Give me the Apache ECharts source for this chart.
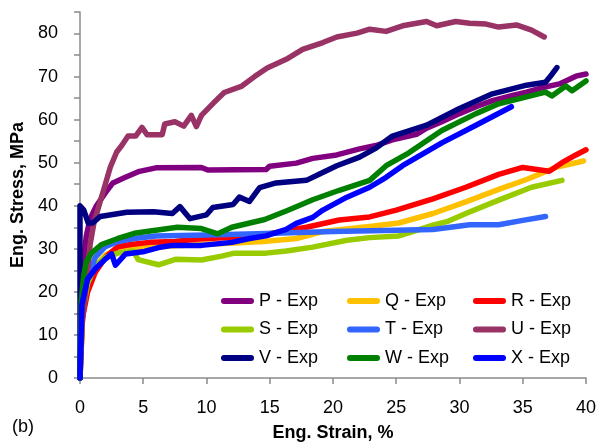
<!DOCTYPE html>
<html>
<head>
<meta charset="utf-8">
<script src="https://cdn.jsdelivr.net/npm/echarts@6/dist/echarts.min.js"></script>
<style>
  html, body { margin: 0; padding: 0; background: #fff; }
  #chart { width: 599px; height: 447px; }
</style>
</head>
<body>
<div id="chart"></div>
<script>
// Engineering stress–strain curves, [strain %, stress MPa]
const seriesNames = ['P - Exp', 'Q - Exp', 'R - Exp', 'S - Exp', 'T - Exp', 'U - Exp', 'V - Exp', 'W - Exp', 'X - Exp'];
const seriesColors = ['#800080', '#FFC000', '#FF0000', '#99CC00', '#3366FF', '#993366', '#000080', '#008000', '#0000FF'];

const dataP = [[0,0],[0.1,15],[0.3,28],[0.5,33],[0.8,37],[1.3,40],[2.0,43],[2.6,45.3],[3.5,46.5],[4.7,48],[6.0,48.8],[9.6,48.9],[10.1,48.3],[14.7,48.4],[15,49.2],[17.1,49.9],[18.4,51],[20.3,51.8],[22.1,53.2],[23.4,54],[24.7,55.3],[26.6,56.6],[27.4,58],[28.6,59.5],[30,61.4],[31.3,63],[32.6,64.4],[34.2,65.6],[35.3,66.4],[36.5,67.4],[37.9,68.3],[39.2,70.1],[40,70.6]];
const dataQ = [[0,0],[0.2,15],[0.6,22],[1.2,26],[2,28.5],[3,30],[5,30.2],[8,30.8],[11.8,31.3],[14.5,31.7],[17.1,32.4],[19.2,34],[22.9,35.2],[25.2,36],[27.9,38.2],[30.5,40.9],[33.1,43.8],[35.3,46.1],[37.6,48.9],[39.8,50.4]];
const dataR = [[0,0],[0.2,14],[0.6,20],[1.2,24.5],[2,28],[3,30.5],[4,31],[5.5,31.5],[7.5,31.7],[9.1,32.2],[12,32.7],[14,33],[17.9,35],[20.5,36.7],[22.9,37.4],[25,39],[27.9,41.6],[30.5,44.3],[33.1,47.3],[35,48.9],[37.1,48],[38.1,50],[39.2,51.8],[40,53]];
const dataS = [[0,0],[0.2,15],[0.6,22],[1.2,26],[2,28],[3,29],[4.2,29.5],[4.6,27.5],[6.2,26.3],[7.6,27.6],[9.6,27.4],[11.2,28.3],[12.2,29],[14.7,29],[16.3,29.5],[18.4,30.4],[21.1,32],[22.9,32.6],[25.2,33],[26.3,34],[27.9,35.5],[29,36.3],[30.5,38.2],[33.1,41.3],[35.7,44.3],[38.1,45.9]];
const dataT = [[0,0],[0.15,15],[0.5,22],[1.2,28],[2,30.5],[3,31.7],[4.3,32.4],[6,33],[10,33.2],[14,33.5],[20,34],[27.9,34.5],[30.8,35.6],[33.1,35.6],[35,36.6],[36.8,37.5]];
const dataU = [[0,0],[0.15,12],[0.5,22],[0.8,31],[1.1,36],[1.5,40],[2.0,45],[2.4,49],[2.9,52.5],[3.3,54],[3.8,56.2],[4.4,56.2],[4.9,58.2],[5.3,56.5],[6.5,56.5],[6.7,59],[7.5,59.5],[8.2,58.5],[8.8,61],[9.2,58.4],[9.6,61],[10.6,64],[11.4,66.3],[12.8,67.8],[13.8,70],[14.8,72],[16.3,74],[17.6,76.3],[19.2,77.9],[20.3,79.2],[21.9,80.1],[22.9,81],[24.2,80.5],[25.5,81.8],[27.4,82.8],[28.2,81.8],[29.7,82.8],[30.8,82.4],[32.1,82.2],[33.1,81.5],[34.5,82],[35.7,80.8],[36.7,79.2]];
const dataV = [[0,0],[0,40],[0.3,39],[0.65,36],[1.0,36],[1.6,37.5],[3.7,38.5],[5.8,38.6],[7.3,38.2],[7.9,39.8],[8.7,37],[10,37.9],[10.5,39.6],[12.1,40.3],[12.6,42],[13.4,41],[14.2,44.2],[15.5,45.3],[17.9,45.9],[18.9,47.3],[20.3,49.3],[22.1,51.3],[23.4,53.4],[24.7,56.2],[27.4,58.7],[30,62.6],[32.6,66],[35.3,68],[36.8,68.7],[37.3,70.5],[37.7,72.1]];
const dataW = [[0,0],[0.1,18],[0.3,24],[0.5,27],[0.9,29],[1.7,31],[3,32.4],[4.3,33.6],[5.7,34.2],[7.7,35],[9.6,34.7],[10.9,33.5],[12,35],[14.6,36.8],[16.3,38.8],[18.4,41.4],[20.5,43.6],[22.9,45.9],[24.2,49.3],[26,52.3],[28.6,57.5],[31.3,61.4],[33.1,63.7],[35.3,65.3],[36.8,66.4],[37.3,65.5],[38.4,67.8],[38.9,66.7],[40,69]];
const dataX = [[0,0],[0.15,17],[0.6,23],[1.2,25.3],[2,27.6],[2.5,28.8],[2.8,26.2],[3.6,28.8],[5.1,29.4],[6.2,30.3],[7.3,30.8],[9.6,30.8],[12,31.5],[13.4,32.4],[14.7,33],[16.3,34.5],[17.1,35.9],[18.4,37.3],[19.2,39],[21.1,42],[22.9,44.3],[24.2,46.6],[25.5,49.3],[28.6,54.6],[31.3,58.7],[34.1,63]];

const seriesData = [dataP, dataQ, dataR, dataS, dataT, dataU, dataV, dataW, dataX];

// Legend columns, three entries each
const legendColumns = [
  ['P - Exp', 'S - Exp', 'V - Exp'],
  ['Q - Exp', 'T - Exp', 'W - Exp'],
  ['R - Exp', 'U - Exp', 'X - Exp']
];

const xTicks = { min: 0, max: 40, step: 5 };
const yTicks = { min: 0, max: 85, step: 5, labelStep: 10 };

const FONT = '"Liberation Sans", Arial, sans-serif';
const pill = 'path://M3,0 L30,0 A3,3 0 0 1 30,6 L3,6 A3,3 0 0 1 3,0 Z';
const legendLefts = [221, 347, 473];

const chart = echarts.init(document.getElementById('chart'), null, { renderer: 'canvas' });

chart.setOption({
  animation: false,
  backgroundColor: '#fff',
  grid: { left: 80, right: 12, top: 12, bottom: 63, containLabel: false },
  xAxis: {
    type: 'value',
    min: xTicks.min, max: xTicks.max, interval: xTicks.step,
    name: 'Eng. Strain, %',
    nameLocation: 'middle',
    nameGap: 46,
    nameTextStyle: { fontFamily: FONT, fontSize: 18, fontWeight: 'bold', color: '#000' },
    axisLine: { show: true, lineStyle: { color: '#8a8a8a', width: 1.5 } },
    axisTick: { show: true, inside: false, length: 6, lineStyle: { color: '#8a8a8a', width: 1.5 } },
    axisLabel: { fontFamily: FONT, fontSize: 18, color: '#000', margin: 21 },
    splitLine: { show: false }
  },
  yAxis: {
    type: 'value',
    min: yTicks.min, max: yTicks.max, interval: yTicks.step,
    name: 'Eng. Stress, MPa',
    nameLocation: 'middle',
    nameGap: 50,
    nameRotate: 90,
    nameTextStyle: { fontFamily: FONT, fontSize: 18, fontWeight: 'bold', color: '#000' },
    axisLine: { show: true, lineStyle: { color: '#8a8a8a', width: 1.5 } },
    axisTick: { show: true, inside: false, length: 6, lineStyle: { color: '#8a8a8a', width: 1.5 } },
    axisLabel: {
      fontFamily: FONT, fontSize: 18, color: '#000', margin: 22,
      formatter: v => (v % yTicks.labelStep === 0 ? String(v) : '')
    },
    splitLine: { show: false }
  },
  legend: legendColumns.map((names, i) => ({
    data: names.map(n => ({ name: n, icon: pill })),
    orient: 'vertical',
    left: legendLefts[i],
    top: 291,
    itemWidth: 33,
    itemHeight: 6,
    itemGap: 8.5,
    itemTextGap: 2,
    symbolKeepAspect: false,
    selectedMode: false,
    padding: 0,
    textStyle: { fontFamily: FONT, fontSize: 18, color: '#000', lineHeight: 20 }
  })),
  graphic: [{
    type: 'text',
    left: 12,
    top: 418,
    style: { text: '(b)', font: '18px "Liberation Sans", Arial, sans-serif', fill: '#000' }
  }],
  series: seriesNames.map((name, i) => ({
    name: name,
    type: 'line',
    data: seriesData[i],
    color: seriesColors[i],
    showSymbol: false,
    symbol: 'none',
    smooth: false,
    clip: true,
    lineStyle: { width: 5.5, color: seriesColors[i], cap: 'round', join: 'round' },
    emphasis: { disabled: true }
  }))
});
</script>
</body>
</html>
